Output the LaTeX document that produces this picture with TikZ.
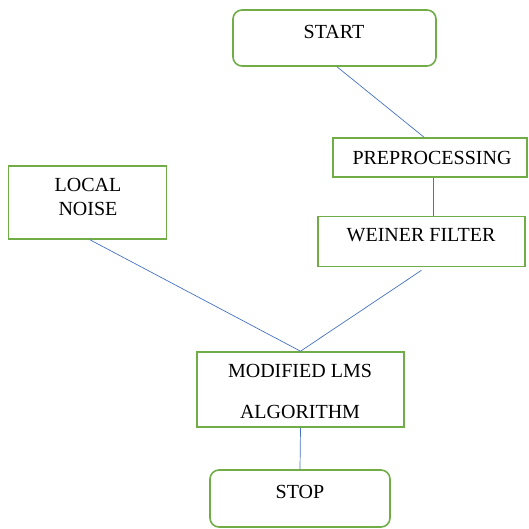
\documentclass[tikz,border=0pt]{standalone}
\usepackage{fontspec}
\setmainfont{Liberation Serif}
\definecolor{boxgreen}{HTML}{70AD47}
\definecolor{lineblue}{HTML}{4472C4}
\begin{document}
\begin{tikzpicture}[x=1pt,y=-1pt,
  box/.style={draw=boxgreen,line width=1.6pt,fill=white,inner sep=0pt},
  rbox/.style={box,rounded corners=9pt},
  lbl/.style={inner sep=0pt,font=\fontsize{20}{24}\selectfont,text height=13.2pt,text depth=0pt},
  conn/.style={draw=lineblue,line width=0.7pt}]
\useasboundingbox (0,0) rectangle (528,529);
\node[rbox,minimum width=203pt,minimum height=56pt] (start) at (334.5,38) {};
\node[box,minimum width=194pt,minimum height=39pt] (pre) at (430,157.5) {};
\node[box,minimum width=207pt,minimum height=50pt] (wf) at (421.5,241.5) {};
\node[box,minimum width=158pt,minimum height=73pt] (ln) at (87.5,202.5) {};
\node[box,minimum width=207pt,minimum height=75pt] (lms) at (300.5,389.5) {};
\node[rbox,minimum width=180pt,minimum height=57pt] (stop) at (300,498.5) {};
\node[lbl] (tstart) at (334,32) {START};
\node[lbl] (tpre) at (432,158) {PREPROCESSING};
\node[lbl] (twf) at (421,235) {WEINER FILTER};
\node[lbl] (tln1) at (88,185) {LOCAL};
\node[lbl] (tln2) at (88,209) {NOISE};
\node[lbl] (tlms1) at (300,371) {MODIFIED LMS};
\node[lbl] (tlms2) at (300,412) {ALGORITHM};
\node[lbl] (tstop) at (300,492) {STOP};
\draw[conn] ([xshift=2.5pt]start.south) -- ([xshift=-6pt]pre.north);
\draw[conn] ([xshift=3pt]pre.south) -- ([xshift=11.5pt]wf.north);
\draw[conn] ([yshift=-3pt]wf.south) -- (lms.north);
\draw[conn] ([xshift=2.5pt]ln.south) -- (lms.north);
\draw[conn] (lms.south) -- (stop.north);
\end{tikzpicture}
\end{document}
